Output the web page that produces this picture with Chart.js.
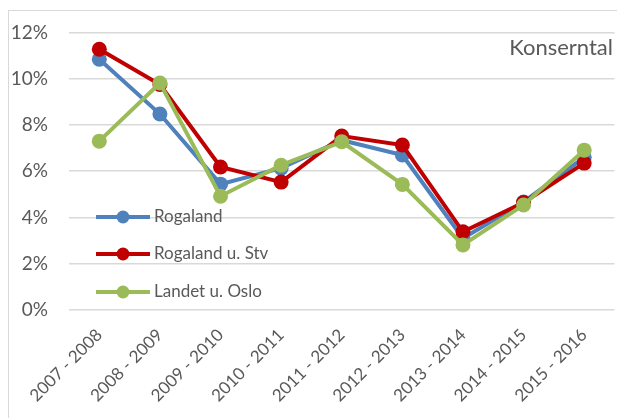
<!DOCTYPE html>
<html><head><meta charset="utf-8">
<script src="https://cdn.jsdelivr.net/npm/chart.js@4/dist/chart.umd.min.js"></script>
<style>
html,body{margin:0;padding:0;background:#fff;overflow:hidden;width:617px;height:418px}
#frame{position:absolute;left:8px;top:10px;width:640px;height:440px;border:1px solid #d9d9d9;box-sizing:border-box}
#wrap{position:absolute;left:0;top:0;width:622px;height:418px}
</style></head><body>
<div id="frame"></div>
<div id="wrap"><canvas id="c" width="622" height="418"></canvas></div>
<script>
const categories = ["2007 - 2008","2008 - 2009","2009 - 2010","2010 - 2011","2011 - 2012","2012 - 2013","2013 - 2014","2014 - 2015","2015 - 2016"];
const rogaland = [10.84, 8.47, 5.44, 6.13, 7.34, 6.70, 3.10, 4.67, 6.60];
const rogalandUStv = [11.27, 9.75, 6.18, 5.53, 7.52, 7.13, 3.38, 4.65, 6.35];
const landetUOslo = [7.30, 9.81, 4.92, 6.26, 7.27, 5.43, 2.81, 4.54, 6.91];
const seriesNames = ["Rogaland", "Rogaland u. Stv", "Landet u. Oslo"];
const yTicks = [0, 2, 4, 6, 8, 10, 12];
const annotationText = "Konserntal";

const FONT = "Lato, 'Liberation Sans', sans-serif";
const TXT = "#595959";
const colors = ["#4f81bd", "#c00000", "#9bbb59"];

const overlay = {
  id: "overlay",
  afterDraw(chart) {
    const ctx = chart.ctx;
    ctx.save();
    ctx.fillStyle = TXT;
    ctx.font = "22px " + FONT;
    ctx.textAlign = "right";
    ctx.textBaseline = "middle";
    ctx.fillText(annotationText, 613, 48);
    const ys = [217, 254, 292];
    chart.data.datasets.forEach((ds, i) => {
      const y = ys[i];
      ctx.strokeStyle = ds.borderColor;
      ctx.lineWidth = 4;
      ctx.beginPath();
      ctx.moveTo(96, y); ctx.lineTo(150, y); ctx.stroke();
      ctx.fillStyle = ds.backgroundColor;
      ctx.beginPath(); ctx.arc(123, y, 6.5, 0, Math.PI * 2); ctx.fill();
      ctx.fillStyle = TXT;
      ctx.font = "17px " + FONT;
      ctx.textAlign = "left";
      ctx.textBaseline = "middle";
      ctx.fillText(ds.label, 154, y);
    });
    ctx.restore();
  }
};

const mk = (label, data, color, order) => ({
  label, data, borderColor: color, backgroundColor: color,
  borderWidth: 4, pointRadius: 7.5, pointHoverRadius: 7.5,
  pointBackgroundColor: color, pointBorderWidth: 0, tension: 0, order
});

new Chart(document.getElementById("c"), {
  type: "line",
  data: {
    labels: categories,
    datasets: [
      mk(seriesNames[0], rogaland, colors[0], 2),
      mk(seriesNames[1], rogalandUStv, colors[1], 1),
      mk(seriesNames[2], landetUOslo, colors[2], 0)
    ]
  },
  options: {
    responsive: false,
    animation: false,
    events: [],
    layout: { padding: { top: 32, right: 0, left: 0, bottom: 0 } },
    plugins: { legend: { display: false }, tooltip: { enabled: false } },
    scales: {
      x: {
        offset: true,
        grid: { display: false, drawTicks: false },
        border: { display: false },
        ticks: { color: TXT, font: { family: FONT, size: 17 }, minRotation: 45, maxRotation: 45, padding: 15, autoSkip: false },
        afterFit(s) { s.height = 108; }
      },
      y: {
        min: 0, max: 12,
        afterBuildTicks(s) { s.ticks = yTicks.map(v => ({ value: v })); },
        grid: { color: "#d9d9d9", lineWidth: 1.5, drawTicks: false },
        border: { display: false },
        ticks: { color: TXT, font: { family: FONT, size: 19 }, padding: 21, callback: v => v + "%" },
        afterFit(s) { s.width = 69; }
      }
    }
  },
  plugins: [overlay]
});
</script>
</body></html>
